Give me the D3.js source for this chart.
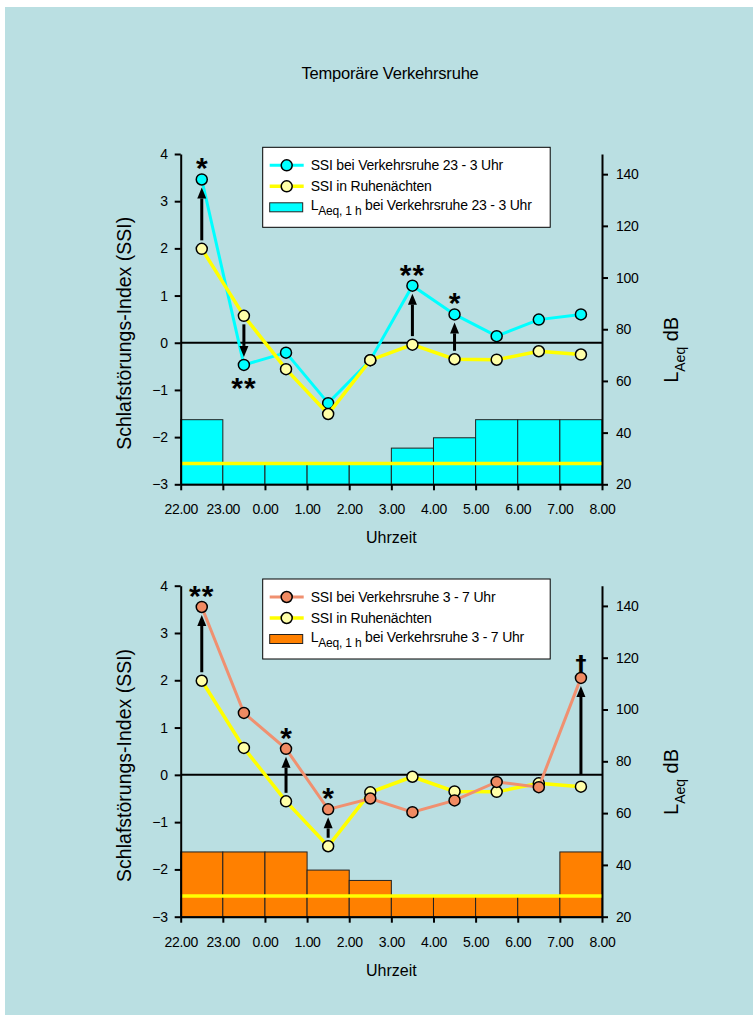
<!DOCTYPE html>
<html>
<head>
<meta charset="utf-8">
<style>
  body { margin: 0; background: #ffffff; }
  svg { display: block; font-family: "Liberation Sans", Arial, sans-serif; }
</style>
</head>
<body>
<script src="https://cdn.jsdelivr.net/npm/d3@7"></script>
<script>
// hour labels on the x axis (one tick per hour, points sit in the middle)
var hourLabels = ["22.00", "23.00", "0.00", "1.00", "2.00", "3.00", "4.00", "5.00", "6.00", "7.00", "8.00"];

// SSI in quiet nights (same in both panels)
var ssiRuhe = [1.99, 0.57, -0.56, -1.51, -0.37, -0.04, -0.35, -0.36, -0.18, -0.25];
// SSI with traffic rest 23 - 3 Uhr
var ssiRuhe23 = [3.46, -0.47, -0.21, -1.28, -0.37, 1.21, 0.60, 0.14, 0.49, 0.60];
// SSI with traffic rest 3 - 7 Uhr
var ssiRuhe3 = [3.55, 1.31, 0.55, -0.73, -0.50, -0.79, -0.54, -0.15, -0.26, 2.05];

// LAeq,1h per hour (dB)
var laeq23 = [45, 28, 28, 28, 28, 34, 38, 45, 45, 45];
var laeq3 = [45, 45, 45, 38, 34, 28, 28, 28, 28, 45];
var laeqRuhe = 28;

// significance marks: hour index + symbol (+ optional arrow start)
var marks23 = [{i: 0, s: "*"}, {i: 1, s: "**"}, {i: 5, s: "**"}, {i: 6, s: "*"}];
var marks3 = [{i: 0, s: "**"}, {i: 2, s: "*"}, {i: 3, s: "*"}, {i: 9, s: "\u2020", from: 0}];

var width = 753, height = 1015;

var svg = d3.select("body").append("svg")
  .attr("width", width)
  .attr("height", height);

svg.append("rect")
  .attr("x", 5).attr("y", 7)
  .attr("width", width - 5).attr("height", height - 7)
  .attr("fill", "#badfe2");

svg.append("text")
  .attr("x", 390).attr("y", 79)
  .attr("text-anchor", "middle")
  .style("font-size", "16.5px")
  .style("letter-spacing", "-0.2px")
  .text("Temporäre Verkehrsruhe");

var left = 180.7, right = 602;

function drawPanel(top, bottom, ssi, laeq, color, lineColor, barColor, marks, legendText) {
  var g = svg.append("g");

  var x = d3.scaleLinear().domain([0, 10]).range([left, right]);
  var y = d3.scaleLinear().domain([-3, 4]).range([bottom, top]);
  var y2 = d3.scaleLinear().domain([20, 147.8]).range([bottom, top]);

  // bars
  g.selectAll(".bar")
    .data(laeq)
    .enter().append("rect")
    .attr("x", function(d, i) { return x(i); })
    .attr("y", function(d) { return y2(d); })
    .attr("width", x(1) - x(0))
    .attr("height", function(d) { return bottom - y2(d); })
    .attr("fill", barColor)
    .attr("stroke", "#222")
    .attr("stroke-width", 1);

  // quiet night level
  g.append("line")
    .attr("x1", x(0)).attr("x2", x(10))
    .attr("y1", y2(laeqRuhe)).attr("y2", y2(laeqRuhe))
    .attr("stroke", "#ffff00").attr("stroke-width", 3.5);

  // zero line
  g.append("line")
    .attr("x1", x(0)).attr("x2", x(10))
    .attr("y1", y(0)).attr("y2", y(0))
    .attr("stroke", "#000").attr("stroke-width", 2);

  var line = d3.line()
    .x(function(d, i) { return x(i + 0.5); })
    .y(function(d) { return y(d); });

  function series(data, stroke, fill, sw) {
    g.append("path")
      .datum(data)
      .attr("d", line)
      .attr("fill", "none")
      .attr("stroke", stroke)
      .attr("stroke-width", sw);
    g.selectAll(null)
      .data(data)
      .enter().append("circle")
      .attr("cx", function(d, i) { return x(i + 0.5); })
      .attr("cy", function(d) { return y(d); })
      .attr("r", 5.5)
      .attr("fill", fill)
      .attr("stroke", "#000")
      .attr("stroke-width", 1.5);
  }

  if (color === "#00ffff") {
    series(ssi, lineColor, color, 3);
    series(ssiRuhe, "#ffff00", "#ffffa8", 3.5);
  } else {
    series(ssiRuhe, "#ffff00", "#ffffa8", 3.5);
    series(ssi, lineColor, color, 3);
  }

  // arrows and significance marks
  marks.forEach(function(m) {
    var cx = x(m.i + 0.5);
    var y0 = y(ssiRuhe[m.i]);
    var y1 = y(ssi[m.i]);
    var dir = y1 < y0 ? -1 : 1;
    var start = m.from !== undefined ? y(m.from) : y0 + dir * 8.5;
    var tip = y1 - dir * 8;
    var base = tip - dir * 11;
    g.append("line")
      .attr("x1", cx).attr("x2", cx)
      .attr("y1", start).attr("y2", base)
      .attr("stroke", "#000").attr("stroke-width", 3);
    g.append("path")
      .attr("d", "M" + cx + "," + tip + "L" + (cx - 4.5) + "," + base + "L" + (cx + 4.5) + "," + base + "Z")
      .attr("fill", "#000");
    var dagger = m.s === "\u2020";
    var ty = dir < 0 ? y1 - 1 : y1 + 33;
    if (dagger) ty = y1 - 7;
    g.append("text")
      .attr("x", cx).attr("y", ty)
      .attr("text-anchor", "middle")
      .style("font-family", dagger ? "DejaVu Sans, sans-serif" : null)
      .style("font-size", dagger ? "22px" : "30px")
      .style("font-weight", "bold")
      .style("letter-spacing", m.s === "**" ? "1px" : "0px")
      .text(m.s);
  });

  // axes
  var xAxis = d3.axisBottom(x)
    .tickValues(d3.range(0, 11))
    .tickFormat(function(d) { return hourLabels[d]; })
    .tickSize(6).tickPadding(14).tickSizeOuter(0);
  var ax = g.append("g")
    .attr("transform", "translate(0," + bottom + ")")
    .call(xAxis);

  var yAxis = d3.axisLeft(y).tickValues(d3.range(-3, 5))
    .tickFormat(d3.format("d"))
    .tickSize(6).tickPadding(7).tickSizeOuter(0);
  var ay = g.append("g")
    .attr("transform", "translate(" + left + ",0)")
    .call(yAxis);

  var y2Axis = d3.axisRight(y2).tickValues(d3.range(20, 141, 20))
    .tickFormat(d3.format("d"))
    .tickSize(6).tickPadding(8).tickSizeOuter(0);
  var ay2 = g.append("g")
    .attr("transform", "translate(" + right + ",0)")
    .call(y2Axis);

  [ax, ay, ay2].forEach(function(a) {
    a.selectAll("path, line").attr("stroke", "#000").attr("stroke-width", 2);
    a.selectAll("text").style("font-size", "14px").style("letter-spacing", "-0.3px").attr("fill", "#000");
  });

  // axis titles
  g.append("text")
    .attr("x", (left + right) / 2).attr("y", bottom + 59)
    .attr("text-anchor", "middle")
    .style("font-size", "16px")
    .text("Uhrzeit");

  g.append("text")
    .attr("transform", "translate(131," + (y(0.2)) + ") rotate(-90)")
    .attr("text-anchor", "middle")
    .style("font-size", "19.5px")
    .text("Schlafstörungs-Index (SSI)");

  var rt = g.append("text")
    .attr("transform", "translate(678," + (y(-0.15)) + ") rotate(-90)")
    .attr("text-anchor", "middle")
    .style("font-size", "20px");
  rt.append("tspan").text("L");
  rt.append("tspan").attr("dy", 7).style("font-size", "14px").text("Aeq");
  rt.append("tspan").attr("dy", -7).text(" dB");

  // legend
  var lx = 262.7, ly = top - 6.7;
  var lg = g.append("g").attr("transform", "translate(" + lx + "," + ly + ")");
  lg.append("rect")
    .attr("width", 287.5).attr("height", 80)
    .attr("fill", "#fff").attr("stroke", "#000").attr("stroke-width", 1);

  var rows = [
    {stroke: lineColor, fill: color, sw: 3, text: legendText[0]},
    {stroke: "#ffff00", fill: "#ffffa8", sw: 3.5, text: legendText[1]}
  ];
  rows.forEach(function(r, k) {
    var ry = 18 + k * 21;
    lg.append("line")
      .attr("x1", 7).attr("x2", 41).attr("y1", ry).attr("y2", ry)
      .attr("stroke", r.stroke).attr("stroke-width", r.sw);
    lg.append("circle")
      .attr("cx", 24).attr("cy", ry).attr("r", 5.5)
      .attr("fill", r.fill).attr("stroke", "#000").attr("stroke-width", 1.5);
    lg.append("text")
      .attr("x", 48).attr("y", ry + 5)
      .style("font-size", "14px")
      .style("letter-spacing", "-0.2px")
      .text(r.text);
  });
  lg.append("rect")
    .attr("x", 7).attr("y", 55.5).attr("width", 33).attr("height", 9)
    .attr("fill", barColor).attr("stroke", "#222").attr("stroke-width", 1);
  var lt = lg.append("text")
    .attr("x", 48).attr("y", 63)
    .style("font-size", "14px")
    .style("letter-spacing", "-0.2px");
  lt.append("tspan").text("L");
  lt.append("tspan").attr("dy", 5).style("font-size", "12px").text("Aeq, 1 h");
  lt.append("tspan").attr("dy", -5).text(" bei " + legendText[2]);
}

drawPanel(154, 484.3, ssiRuhe23, laeq23, "#00ffff", "#00ffff", "#00ffff", marks23,
  ["SSI bei Verkehrsruhe 23 - 3 Uhr", "SSI in Ruhenächten", "Verkehrsruhe 23 - 3 Uhr"]);

drawPanel(585.7, 916.7, ssiRuhe3, laeq3, "#f08a62", "#f09070", "#ff8000", marks3,
  ["SSI bei Verkehrsruhe 3 - 7 Uhr", "SSI in Ruhenächten", "Verkehrsruhe 3 - 7 Uhr"]);
</script>
</body>
</html>
